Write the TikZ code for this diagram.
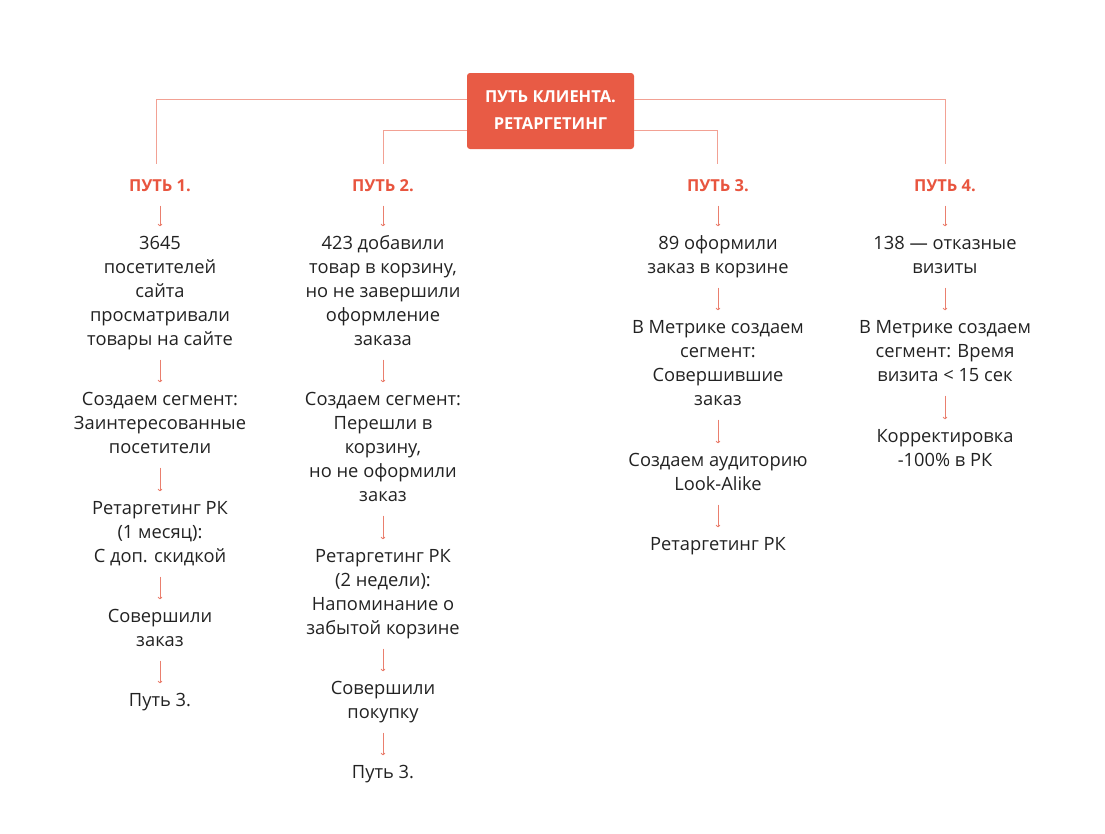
\documentclass[tikz,border=0pt]{standalone}
\usepackage{fontspec}
\setmainfont{Open Sans}
\usetikzlibrary{arrows.meta}
\definecolor{coral}{HTML}{E85B45}
\definecolor{coralhead}{HTML}{E8553F}
\definecolor{linec}{HTML}{F2A194}
\definecolor{arrc}{HTML}{EA7F6E}
\definecolor{txtc}{HTML}{222222}
\tikzset{
  txt/.style={font=\fontsize{18.3}{24}\selectfont, align=center, inner sep=0pt, text=txtc, yshift=-2pt},
  head/.style={font=\fontsize{16.5}{24}\selectfont\bfseries, align=center, inner sep=0pt, text=coralhead, yshift=-2pt},
  topbox/.style={fill=coral, rounded corners=3pt, minimum width=167pt, minimum height=76pt, inner sep=0pt,
     font=\fontsize{16.5}{27}\selectfont\bfseries, text=white, align=center},
  conn/.style={draw=linec, line width=0.9pt},
  arr/.style={draw=arrc, line width=0.8pt, -{To[length=2.5pt,width=4.5pt]}, shorten <=6.5pt, shorten >=6.5pt}
}
\begin{document}
\begin{tikzpicture}[x=1pt,y=-1pt]
\useasboundingbox (0,0) rectangle (1105,833);
\node[topbox] (top) at (550.5,111) {\strut ПУТЬ КЛИЕНТА.\\РЕТАРГЕТИНГ\strut};

% column 1
\node[head] (h1) at (160,185) {\strut ПУТЬ 1.\strut};
\node[txt] (a1) at (160,291) {\strut 3645\\посетителей\\сайта\\просматривали\\товары на сайте\strut};
\node[txt] (b1) at (160,423) {\strut Создаем сегмент:\\Заинтересованные\\посетители\strut};
\node[txt] (c1) at (160,532) {\strut Ретаргетинг РК\\(1 месяц):\\С доп. скидкой\strut};
\node[txt] (d1) at (160,628) {\strut Совершили\\заказ\strut};
\node[txt] (e1) at (160,700) {\strut Путь 3.\strut};

% column 2
\node[head] (h2) at (383,185) {\strut ПУТЬ 2.\strut};
\node[txt] (a2) at (383,291) {\strut 423 добавили\\товар в корзину,\\но не завершили\\оформление\\заказа\strut};
\node[txt] (b2) at (383,447) {\strut Создаем сегмент:\\Перешли в\\корзину,\\но не оформили\\заказ\strut};
\node[txt] (c2) at (383,592) {\strut Ретаргетинг РК\\(2 недели):\\Напоминание о\\забытой корзине\strut};
\node[txt] (d2) at (383,700) {\strut Совершили\\покупку\strut};
\node[txt] (e2) at (383,772) {\strut Путь 3.\strut};

% column 3
\node[head] (h3) at (718,185) {\strut ПУТЬ 3.\strut};
\node[txt] (a3) at (718,255) {\strut 89 оформили\\заказ в корзине\strut};
\node[txt] (b3) at (718,363) {\strut В Метрике создаем\\сегмент:\\Совершившие\\заказ\strut};
\node[txt] (c3) at (718,472) {\strut Создаем аудиторию\\Look-Alike\strut};
\node[txt] (d3) at (718,544) {\strut Ретаргетинг РК\strut};

% column 4
\node[head] (h4) at (945,185) {\strut ПУТЬ 4.\strut};
\node[txt] (a4) at (945,255) {\strut 138 — отказные\\визиты\strut};
\node[txt] (b4) at (945,351) {\strut В Метрике создаем\\сегмент: Время\\визита < 15 сек\strut};
\node[txt] (c4) at (945,448) {\strut Корректировка\\-100\% в РК\strut};

% connectors from top box
\draw[conn] ([yshift=12pt]top.west) -| ([xshift=-4pt,yshift=11pt]h1.north);
\draw[conn] ([yshift=12pt]top.east) -| ([yshift=11pt]h4.north);
\draw[conn] ([yshift=-19pt]top.west) -| ([yshift=11pt]h2.north);
\draw[conn] ([yshift=-19pt]top.east) -| ([xshift=-1pt,yshift=11pt]h3.north);

% arrows
\foreach \p/\q in {h1/a1,a1/b1,b1/c1,c1/d1,d1/e1,
                   h2/a2,a2/b2,b2/c2,c2/d2,d2/e2,
                   h3/a3,a3/b3,b3/c3,c3/d3,
                   h4/a4,a4/b4,b4/c4}
  \draw[arr] (\p.south) -- (\q.north);
\end{tikzpicture}
\end{document}
